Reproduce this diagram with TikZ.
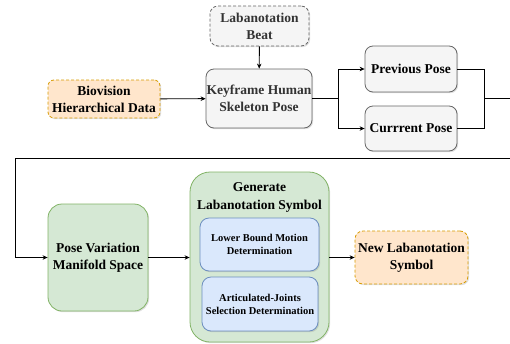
\documentclass[tikz,border=0pt]{standalone}
\usepackage{fontspec}
\setmainfont{Liberation Serif}[BoldFont={Liberation Serif Bold}]
\usepackage{tikz}
\usetikzlibrary{arrows.meta,shadows}

\definecolor{grayfill}{HTML}{F5F5F5}
\definecolor{grayline}{HTML}{666666}
\definecolor{graytext}{HTML}{333333}
\definecolor{orangefill}{HTML}{FFE6CC}
\definecolor{orangeline}{HTML}{D79B00}
\definecolor{greenfill}{HTML}{D5E8D4}
\definecolor{greenline}{HTML}{82B366}
\definecolor{bluefill}{HTML}{DAE8FC}
\definecolor{blueline}{HTML}{6C8EBF}

\begin{document}
\begin{tikzpicture}[
  x=1pt, y=-1pt,
  font=\rmfamily\bfseries\fontsize{13.5}{17}\selectfont,
  box/.style={draw, line width=0.8pt, align=center, inner sep=0pt,
    drop shadow={opacity=0.25, shadow xshift=1.2pt, shadow yshift=-1.2pt}},
  graybox/.style={box, fill=grayfill, draw=grayline, rounded corners=8pt},
  orangebox/.style={box, fill=orangefill, draw=orangeline, rounded corners=6pt,
    dash pattern=on 3pt off 2pt},
  greenbox/.style={box, fill=greenfill, draw=greenline},
  bluebox/.style={box, fill=bluefill, draw=blueline, rounded corners=9pt,
    font=\rmfamily\bfseries\fontsize{10.5}{13}\selectfont},
  wire/.style={line width=0.9pt},
  arrow/.style={wire, -{Stealth[length=5pt,width=4.5pt]}}
]
\useasboundingbox (0,0) rectangle (510,343);

% Top row
\node[graybox, dash pattern=on 3pt off 2pt, text=graytext,
  minimum width=99pt, minimum height=40pt] (beat) at (259.5,26) {Labanotation\\Beat};
\node[graybox, text=graytext, minimum width=106pt, minimum height=59pt]
  (key) at (259,98.5) {Keyframe Human\\Skeleton Pose};
\node[orangebox, minimum width=112pt, minimum height=38pt]
  (bvh) at (104,99) {Biovision\\Hierarchical Data};
\node[graybox, minimum width=92pt, minimum height=46pt] (prev) at (411,69) {Previous Pose};
\node[graybox, minimum width=92pt, minimum height=45pt] (cur) at (411,128.5) {Currrent Pose};

% Bottom row
\node[greenbox, rounded corners=14pt, minimum width=100pt, minimum height=107pt]
  (pvm) at (98,257.5) {Pose Variation\\Manifold Space};
\node[greenbox, rounded corners=20pt, minimum width=139pt, minimum height=170pt]
  (gen) at (259.5,257) {};
\node[align=center, font=\rmfamily\bfseries\fontsize{13.5}{18}\selectfont]
  (gentitle) at (259.5,197.5) {Generate\\Labanotation Symbol};
\node[bluebox, minimum width=119pt, minimum height=53pt]
  (lower) at (259.5,244.5) {Lower Bound Motion\\Determination};
\node[bluebox, minimum width=116pt, minimum height=54pt]
  (joint) at (260,304) {Articulated-Joints\\Selection Determination};
\node[orangebox, rounded corners=8pt, minimum width=113pt, minimum height=53pt]
  (newsym) at (411.5,257.5) {New Labanotation\\Symbol};

% Helper points
\coordinate (split) at (338,98.5);
\coordinate (merge) at (484,98.5);
\coordinate (outR) at (510,98.5);
\coordinate (backR) at (510,158.3);
\coordinate (backL) at (15,158.3);

% Connectors
\draw[arrow] (beat) -- (key);
\draw[arrow] (bvh) -- (key);
\draw[wire] (key) -- (split);
\draw[arrow] (split) |- (prev);
\draw[arrow] (split) |- (cur);
\draw[wire] (prev) -| (merge);
\draw[wire] (cur) -| (merge);
\draw[wire] (merge) -- (outR);
\draw[arrow] (backR) -- (backL) |- (pvm);
\draw[arrow] (pvm.east) -- (pvm.east -| gen.west);
\draw[arrow] (gen.east |- newsym) -- (newsym);

\end{tikzpicture}
\end{document}
